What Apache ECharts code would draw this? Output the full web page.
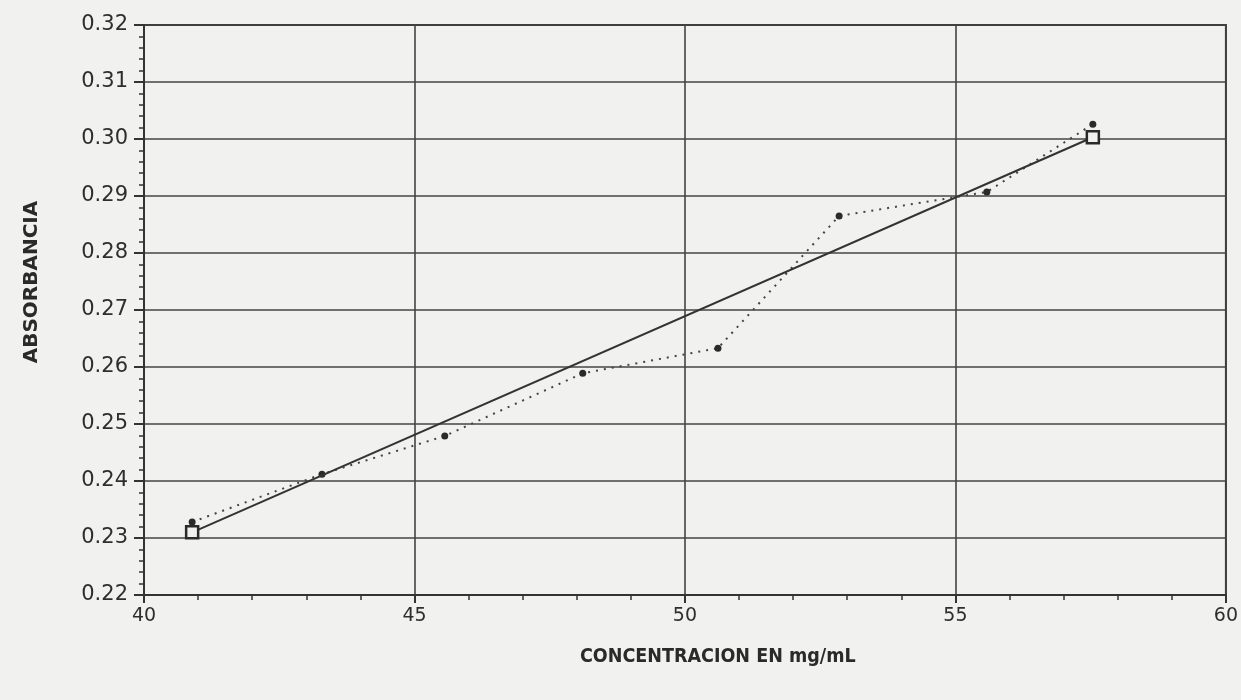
<!DOCTYPE html>
<html><head><meta charset="utf-8">
<script src="https://cdn.jsdelivr.net/npm/echarts@6/dist/echarts.min.js"></script>
<style>html,body{margin:0;padding:0;background:#f1f1ef;}#c{width:1241px;height:700px;}</style>
</head><body><div id="c"></div>
<script>
const concentracion = [40.89, 43.29, 45.56, 48.11, 50.61, 52.85, 55.58, 57.54];
const absorbancia = [0.2328, 0.2412, 0.2479, 0.2589, 0.2633, 0.2865, 0.2907, 0.3026];
const ajusteX = [40.89, 57.54];
const ajusteY = [0.2310, 0.3003];
const xTitle = 'CONCENTRACION EN mg/mL';
const yTitle = 'ABSORBANCIA';

const chart = echarts.init(document.getElementById('c'), null, {renderer:'canvas'});
const ink = '#333';
chart.setOption({
  backgroundColor: '#f1f1ef',
  animation: false,
  grid: {left: 144, right: 15, top: 25, bottom: 105, show: true, borderColor: ink, borderWidth: 2, backgroundColor: 'transparent'},
  graphic: [
    {type: 'text', left: 580, top: 647,
      style: {text: xTitle, fontFamily: 'DejaVu Sans Condensed', fontWeight: 'bold', fontSize: 19.5, fill: '#2a2a2a'}},
    {type: 'text', x: 32, y: 282, rotation: Math.PI / 2,
      style: {text: yTitle, fontFamily: 'DejaVu Sans', fontWeight: 'bold', fontSize: 20, fill: '#2a2a2a',
        align: 'center', verticalAlign: 'middle'}}
  ],
  xAxis: {
    type: 'value', min: 40, max: 60, interval: 5,
    axisLine: {show: true, onZero: false, lineStyle: {color: ink, width: 2}},
    axisTick: {show: true, length: 8, lineStyle: {color: ink, width: 2}},
    minorTick: {show: true, splitNumber: 5, length: 5, lineStyle: {color: ink, width: 1.5}},
    axisLabel: {fontFamily: 'DejaVu Sans', fontSize: 19, color: '#2e2e2e', margin: 12},
    splitLine: {show: true, lineStyle: {color: '#444', width: 1.6}}
  },
  yAxis: {
    type: 'value', min: 0.22, max: 0.32, interval: 0.01,
    axisLine: {show: true, onZero: false, lineStyle: {color: ink, width: 2}},
    axisTick: {show: true, length: 10, lineStyle: {color: ink, width: 2}},
    minorTick: {show: true, splitNumber: 5, length: 5, lineStyle: {color: ink, width: 1.5}},
    axisLabel: {fontFamily: 'DejaVu Sans', fontSize: 21, color: '#2e2e2e', margin: 16,
      formatter: v => v.toFixed(2)},
    splitLine: {show: true, lineStyle: {color: '#444', width: 1.6}}
  },
  series: [
    {
      type: 'line', name: 'medido',
      data: concentracion.map((x, i) => [x, absorbancia[i]]),
      symbol: 'circle', symbolSize: 7,
      itemStyle: {color: '#2a2a2a'},
      lineStyle: {color: '#444', width: 2, type: [2, 6]},
      z: 3
    },
    {
      type: 'line', name: 'ajuste',
      data: ajusteX.map((x, i) => [x, ajusteY[i]]),
      symbol: 'rect', symbolSize: 12,
      itemStyle: {color: '#f1f1ef', borderColor: '#2a2a2a', borderWidth: 2.5},
      lineStyle: {color: '#333', width: 2},
      z: 4
    }
  ]
});
</script></body></html>
